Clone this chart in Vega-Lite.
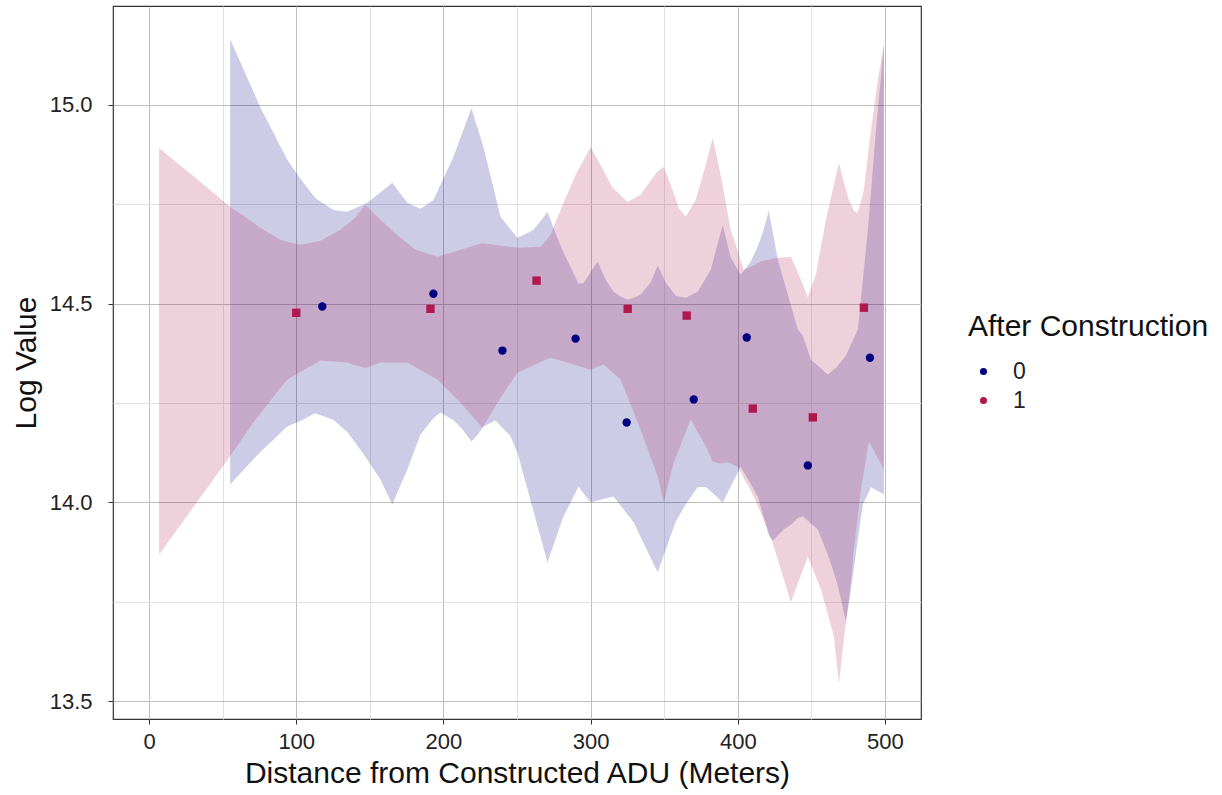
{
  "$schema": "https://vega.github.io/schema/vega-lite/v6.json",
  "autosize": {"type": "none"},
  "padding": {"left": 113, "top": 6, "right": 301, "bottom": 76},
  "width": 808,
  "height": 713,
  "background": "white",
  "config": {
    "font": "Liberation Sans",
    "view": {"stroke": "#333333", "strokeWidth": 1.2},
    "axis": {"domain": false, "labelColor": "#222222", "titleColor": "#111111", "titleFontWeight": "normal"}
  },
  "datasets": {
    "ribbons": [
      {"after": "0", "d": 55.1, "lo": 14.045, "hi": 15.166},
      {"after": "0", "d": 70.7, "lo": 14.108, "hi": 15.035},
      {"after": "0", "d": 75.5, "lo": 14.126, "hi": 14.995},
      {"after": "0", "d": 93.9, "lo": 14.191, "hi": 14.862},
      {"after": "0", "d": 102.7, "lo": 14.205, "hi": 14.815},
      {"after": "0", "d": 112.9, "lo": 14.224, "hi": 14.766},
      {"after": "0", "d": 125.2, "lo": 14.208, "hi": 14.736},
      {"after": "0", "d": 134.7, "lo": 14.177, "hi": 14.731},
      {"after": "0", "d": 143.5, "lo": 14.133, "hi": 14.746},
      {"after": "0", "d": 148.3, "lo": 14.107, "hi": 14.754},
      {"after": "0", "d": 157.1, "lo": 14.058, "hi": 14.780},
      {"after": "0", "d": 165.3, "lo": 13.995, "hi": 14.804},
      {"after": "0", "d": 170.7, "lo": 14.042, "hi": 14.777},
      {"after": "0", "d": 175.5, "lo": 14.083, "hi": 14.754},
      {"after": "0", "d": 184.4, "lo": 14.171, "hi": 14.739},
      {"after": "0", "d": 193.2, "lo": 14.212, "hi": 14.761},
      {"after": "0", "d": 198.0, "lo": 14.226, "hi": 14.799},
      {"after": "0", "d": 206.8, "lo": 14.207, "hi": 14.869},
      {"after": "0", "d": 212.9, "lo": 14.184, "hi": 14.931},
      {"after": "0", "d": 219.0, "lo": 14.153, "hi": 14.992},
      {"after": "0", "d": 223.1, "lo": 14.169, "hi": 14.943},
      {"after": "0", "d": 227.2, "lo": 14.191, "hi": 14.894},
      {"after": "0", "d": 232.0, "lo": 14.200, "hi": 14.822},
      {"after": "0", "d": 235.4, "lo": 14.206, "hi": 14.770},
      {"after": "0", "d": 238.8, "lo": 14.193, "hi": 14.719},
      {"after": "0", "d": 245.6, "lo": 14.166, "hi": 14.687},
      {"after": "0", "d": 250.3, "lo": 14.125, "hi": 14.666},
      {"after": "0", "d": 257.1, "lo": 14.033, "hi": 14.678},
      {"after": "0", "d": 261.2, "lo": 13.978, "hi": 14.686},
      {"after": "0", "d": 266.0, "lo": 13.913, "hi": 14.708},
      {"after": "0", "d": 270.7, "lo": 13.849, "hi": 14.731},
      {"after": "0", "d": 276.2, "lo": 13.907, "hi": 14.677},
      {"after": "0", "d": 281.6, "lo": 13.965, "hi": 14.628},
      {"after": "0", "d": 286.4, "lo": 14.000, "hi": 14.592},
      {"after": "0", "d": 291.8, "lo": 14.040, "hi": 14.550},
      {"after": "0", "d": 295.2, "lo": 14.023, "hi": 14.552},
      {"after": "0", "d": 300.0, "lo": 14.000, "hi": 14.579},
      {"after": "0", "d": 304.8, "lo": 14.005, "hi": 14.606},
      {"after": "0", "d": 310.2, "lo": 14.010, "hi": 14.560},
      {"after": "0", "d": 315.6, "lo": 14.015, "hi": 14.530},
      {"after": "0", "d": 320.4, "lo": 13.992, "hi": 14.518},
      {"after": "0", "d": 325.2, "lo": 13.969, "hi": 14.510},
      {"after": "0", "d": 329.3, "lo": 13.950, "hi": 14.515},
      {"after": "0", "d": 334.0, "lo": 13.913, "hi": 14.523},
      {"after": "0", "d": 340.8, "lo": 13.861, "hi": 14.553},
      {"after": "0", "d": 345.6, "lo": 13.824, "hi": 14.596},
      {"after": "0", "d": 351.0, "lo": 13.880, "hi": 14.553},
      {"after": "0", "d": 357.8, "lo": 13.951, "hi": 14.520},
      {"after": "0", "d": 364.6, "lo": 13.995, "hi": 14.515},
      {"after": "0", "d": 372.8, "lo": 14.039, "hi": 14.530},
      {"after": "0", "d": 378.2, "lo": 14.039, "hi": 14.564},
      {"after": "0", "d": 381.6, "lo": 14.028, "hi": 14.585},
      {"after": "0", "d": 385.7, "lo": 14.014, "hi": 14.642},
      {"after": "0", "d": 389.8, "lo": 14.000, "hi": 14.698},
      {"after": "0", "d": 395.2, "lo": 14.040, "hi": 14.616},
      {"after": "0", "d": 402.0, "lo": 14.090, "hi": 14.573},
      {"after": "0", "d": 408.8, "lo": 14.046, "hi": 14.606},
      {"after": "0", "d": 413.6, "lo": 14.015, "hi": 14.644},
      {"after": "0", "d": 417.0, "lo": 13.971, "hi": 14.679},
      {"after": "0", "d": 421.1, "lo": 13.917, "hi": 14.734},
      {"after": "0", "d": 423.8, "lo": 13.904, "hi": 14.679},
      {"after": "0", "d": 427.2, "lo": 13.917, "hi": 14.611},
      {"after": "0", "d": 431.3, "lo": 13.932, "hi": 14.558},
      {"after": "0", "d": 436.1, "lo": 13.944, "hi": 14.496},
      {"after": "0", "d": 440.8, "lo": 13.961, "hi": 14.435},
      {"after": "0", "d": 444.2, "lo": 13.965, "hi": 14.419},
      {"after": "0", "d": 449.7, "lo": 13.947, "hi": 14.359},
      {"after": "0", "d": 454.4, "lo": 13.932, "hi": 14.344},
      {"after": "0", "d": 461.2, "lo": 13.868, "hi": 14.322},
      {"after": "0", "d": 466.7, "lo": 13.807, "hi": 14.339},
      {"after": "0", "d": 469.7, "lo": 13.764, "hi": 14.352},
      {"after": "0", "d": 473.5, "lo": 13.699, "hi": 14.369},
      {"after": "0", "d": 476.9, "lo": 13.781, "hi": 14.397},
      {"after": "0", "d": 481.6, "lo": 13.907, "hi": 14.435},
      {"after": "0", "d": 485.0, "lo": 13.995, "hi": 14.560},
      {"after": "0", "d": 488.4, "lo": 14.021, "hi": 14.686},
      {"after": "0", "d": 490.5, "lo": 14.038, "hi": 14.780},
      {"after": "0", "d": 493.9, "lo": 14.031, "hi": 14.937},
      {"after": "0", "d": 499.3, "lo": 14.020, "hi": 15.151},
      {"after": "1", "d": 6.8, "lo": 13.869, "hi": 14.892},
      {"after": "1", "d": 21.1, "lo": 13.942, "hi": 14.848},
      {"after": "1", "d": 34.7, "lo": 14.012, "hi": 14.807},
      {"after": "1", "d": 55.1, "lo": 14.116, "hi": 14.744},
      {"after": "1", "d": 70.7, "lo": 14.201, "hi": 14.704},
      {"after": "1", "d": 75.5, "lo": 14.223, "hi": 14.691},
      {"after": "1", "d": 89.1, "lo": 14.287, "hi": 14.661},
      {"after": "1", "d": 93.9, "lo": 14.309, "hi": 14.656},
      {"after": "1", "d": 102.7, "lo": 14.328, "hi": 14.648},
      {"after": "1", "d": 116.3, "lo": 14.357, "hi": 14.658},
      {"after": "1", "d": 129.9, "lo": 14.353, "hi": 14.686},
      {"after": "1", "d": 134.7, "lo": 14.352, "hi": 14.700},
      {"after": "1", "d": 140.1, "lo": 14.345, "hi": 14.716},
      {"after": "1", "d": 146.9, "lo": 14.338, "hi": 14.749},
      {"after": "1", "d": 153.7, "lo": 14.347, "hi": 14.724},
      {"after": "1", "d": 157.1, "lo": 14.352, "hi": 14.712},
      {"after": "1", "d": 166.0, "lo": 14.352, "hi": 14.681},
      {"after": "1", "d": 175.5, "lo": 14.352, "hi": 14.652},
      {"after": "1", "d": 181.0, "lo": 14.340, "hi": 14.636},
      {"after": "1", "d": 195.9, "lo": 14.309, "hi": 14.618},
      {"after": "1", "d": 211.6, "lo": 14.251, "hi": 14.636},
      {"after": "1", "d": 226.5, "lo": 14.188, "hi": 14.652},
      {"after": "1", "d": 236.7, "lo": 14.251, "hi": 14.647},
      {"after": "1", "d": 238.8, "lo": 14.263, "hi": 14.646},
      {"after": "1", "d": 250.3, "lo": 14.327, "hi": 14.641},
      {"after": "1", "d": 252.4, "lo": 14.330, "hi": 14.641},
      {"after": "1", "d": 266.0, "lo": 14.353, "hi": 14.643},
      {"after": "1", "d": 272.8, "lo": 14.364, "hi": 14.673},
      {"after": "1", "d": 279.6, "lo": 14.357, "hi": 14.736},
      {"after": "1", "d": 289.8, "lo": 14.346, "hi": 14.824},
      {"after": "1", "d": 300.0, "lo": 14.334, "hi": 14.894},
      {"after": "1", "d": 304.8, "lo": 14.342, "hi": 14.863},
      {"after": "1", "d": 308.8, "lo": 14.347, "hi": 14.835},
      {"after": "1", "d": 315.0, "lo": 14.327, "hi": 14.791},
      {"after": "1", "d": 320.4, "lo": 14.309, "hi": 14.773},
      {"after": "1", "d": 325.2, "lo": 14.265, "hi": 14.756},
      {"after": "1", "d": 334.0, "lo": 14.183, "hi": 14.774},
      {"after": "1", "d": 342.2, "lo": 14.100, "hi": 14.817},
      {"after": "1", "d": 345.6, "lo": 14.065, "hi": 14.833},
      {"after": "1", "d": 349.7, "lo": 14.000, "hi": 14.844},
      {"after": "1", "d": 354.4, "lo": 14.070, "hi": 14.799},
      {"after": "1", "d": 356.5, "lo": 14.101, "hi": 14.777},
      {"after": "1", "d": 359.9, "lo": 14.132, "hi": 14.741},
      {"after": "1", "d": 364.6, "lo": 14.177, "hi": 14.719},
      {"after": "1", "d": 368.0, "lo": 14.209, "hi": 14.740},
      {"after": "1", "d": 371.4, "lo": 14.186, "hi": 14.761},
      {"after": "1", "d": 378.2, "lo": 14.142, "hi": 14.849},
      {"after": "1", "d": 383.0, "lo": 14.102, "hi": 14.917},
      {"after": "1", "d": 388.4, "lo": 14.098, "hi": 14.824},
      {"after": "1", "d": 393.2, "lo": 14.101, "hi": 14.727},
      {"after": "1", "d": 395.2, "lo": 14.098, "hi": 14.686},
      {"after": "1", "d": 400.0, "lo": 14.090, "hi": 14.632},
      {"after": "1", "d": 404.1, "lo": 14.062, "hi": 14.585},
      {"after": "1", "d": 410.9, "lo": 14.015, "hi": 14.597},
      {"after": "1", "d": 415.6, "lo": 13.974, "hi": 14.606},
      {"after": "1", "d": 420.4, "lo": 13.932, "hi": 14.610},
      {"after": "1", "d": 424.5, "lo": 13.889, "hi": 14.614},
      {"after": "1", "d": 436.1, "lo": 13.749, "hi": 14.618},
      {"after": "1", "d": 442.9, "lo": 13.817, "hi": 14.560},
      {"after": "1", "d": 447.6, "lo": 13.864, "hi": 14.516},
      {"after": "1", "d": 453.1, "lo": 13.813, "hi": 14.573},
      {"after": "1", "d": 456.5, "lo": 13.781, "hi": 14.642},
      {"after": "1", "d": 459.9, "lo": 13.736, "hi": 14.711},
      {"after": "1", "d": 465.3, "lo": 13.663, "hi": 14.799},
      {"after": "1", "d": 468.7, "lo": 13.543, "hi": 14.854},
      {"after": "1", "d": 472.1, "lo": 13.656, "hi": 14.806},
      {"after": "1", "d": 475.5, "lo": 13.756, "hi": 14.761},
      {"after": "1", "d": 478.9, "lo": 13.882, "hi": 14.734},
      {"after": "1", "d": 481.6, "lo": 13.968, "hi": 14.729},
      {"after": "1", "d": 483.7, "lo": 14.033, "hi": 14.758},
      {"after": "1", "d": 485.7, "lo": 14.078, "hi": 14.786},
      {"after": "1", "d": 489.1, "lo": 14.153, "hi": 14.894},
      {"after": "1", "d": 490.5, "lo": 14.144, "hi": 14.937},
      {"after": "1", "d": 495.2, "lo": 14.111, "hi": 15.063},
      {"after": "1", "d": 499.3, "lo": 14.083, "hi": 15.156}
    ],
    "points": [
      {"after": "0", "d": 117.7, "v": 14.493},
      {"after": "0", "d": 193.2, "v": 14.525},
      {"after": "0", "d": 240.1, "v": 14.382},
      {"after": "0", "d": 289.8, "v": 14.412},
      {"after": "0", "d": 324.5, "v": 14.201},
      {"after": "0", "d": 370.1, "v": 14.259},
      {"after": "0", "d": 406.1, "v": 14.415},
      {"after": "0", "d": 447.6, "v": 14.093},
      {"after": "0", "d": 489.8, "v": 14.364},
      {"after": "1", "d": 100.0, "v": 14.477},
      {"after": "1", "d": 191.2, "v": 14.487},
      {"after": "1", "d": 263.3, "v": 14.558},
      {"after": "1", "d": 325.2, "v": 14.487},
      {"after": "1", "d": 365.3, "v": 14.470},
      {"after": "1", "d": 410.2, "v": 14.236},
      {"after": "1", "d": 451.0, "v": 14.214},
      {"after": "1", "d": 485.7, "v": 14.490}
    ]
  },
  "encoding": {
    "x": {
      "field": "d",
      "type": "quantitative",
      "scale": {"domain": [-24.5, 524.5], "nice": false, "zero": false},
      "axis": {
        "title": "Distance from Constructed ADU (Meters)",
        "values": [0, 50, 100, 150, 200, 250, 300, 350, 400, 450, 500],
        "labelExpr": "datum.value % 100 === 0 ? format(datum.value, 'd') : ''",
        "gridColor": {"condition": {"test": "datum.value % 100 === 0", "value": "#bdbdbd"}, "value": "#e2e2e2"},
        "tickColor": {"condition": {"test": "datum.value % 100 === 0", "value": "#333333"}, "value": "transparent"},
        "tickSize": 5,
        "labelFontSize": 22,
        "labelPadding": 7,
        "titleFontSize": 30,
        "titlePadding": 6
      }
    },
    "y": {
      "type": "quantitative",
      "scale": {"domain": [13.455, 15.249], "nice": false, "zero": false},
      "axis": {
        "title": "Log Value",
        "values": [13.5, 13.75, 14, 14.25, 14.5, 14.75, 15],
        "labelExpr": "(datum.value * 2) % 1 === 0 ? format(datum.value, '.1f') : ''",
        "gridColor": {"condition": {"test": "(datum.value * 2) % 1 === 0", "value": "#bdbdbd"}, "value": "#e2e2e2"},
        "tickColor": {"condition": {"test": "(datum.value * 2) % 1 === 0", "value": "#333333"}, "value": "transparent"},
        "tickSize": 5,
        "labelFontSize": 22,
        "labelPadding": 16,
        "titleFontSize": 30,
        "titlePadding": 8
      }
    }
  },
  "layer": [
    {
      "data": {"name": "ribbons"},
      "mark": {"type": "area", "opacity": 0.2, "interpolate": "linear"},
      "encoding": {
        "y": {"field": "hi", "type": "quantitative"},
        "y2": {"field": "lo"},
        "color": {
          "field": "after",
          "type": "nominal",
          "scale": {"domain": ["0", "1"], "range": ["#000080", "#b0184e"]},
          "legend": null
        }
      }
    },
    {
      "data": {"name": "points"},
      "transform": [{"filter": "datum.after === '0'"}],
      "mark": {"type": "point", "shape": "circle", "filled": true, "opacity": 1, "size": 70},
      "encoding": {
        "y": {"field": "v", "type": "quantitative"},
        "color": {
          "field": "after",
          "type": "nominal",
          "scale": {"domain": ["0", "1"], "range": ["#000080", "#b0184e"]},
          "legend": {
            "title": "After Construction",
            "orient": "none",
            "legendX": 855,
            "legendY": 306,
            "symbolType": "circle",
            "symbolSize": 50,
            "symbolOffset": 4,
            "labelOffset": 18,
            "titleFontSize": 30,
            "titleFontWeight": "normal",
            "titleColor": "#111111",
            "titleLimit": 400,
            "titlePadding": 18,
            "labelFontSize": 23,
            "labelColor": "#222222",
            "rowPadding": 5
          }
        }
      }
    },
    {
      "data": {"name": "points"},
      "transform": [{"filter": "datum.after === '1'"}],
      "mark": {"type": "point", "shape": "square", "filled": true, "opacity": 1, "size": 70},
      "encoding": {
        "y": {"field": "v", "type": "quantitative"},
        "color": {
          "field": "after",
          "type": "nominal",
          "scale": {"domain": ["0", "1"], "range": ["#000080", "#b0184e"]},
          "legend": null
        }
      }
    }
  ],
  "resolve": {"legend": {"color": "independent"}}
}
